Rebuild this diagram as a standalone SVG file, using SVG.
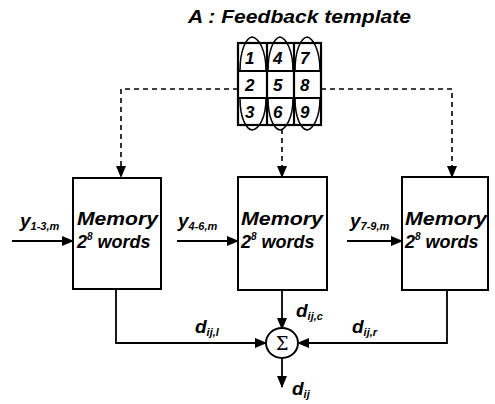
<svg xmlns="http://www.w3.org/2000/svg" width="495" height="404" viewBox="0 0 495 404">
<defs>
<marker id="ah" markerWidth="12" markerHeight="10" refX="11" refY="5" orient="auto" markerUnits="userSpaceOnUse">
<path d="M0,0 L12,5 L0,10 Z" fill="#000"/>
</marker>
<style>
.t{font-family:"Liberation Sans",Arial,sans-serif;font-weight:bold;font-style:italic;fill:#000}
.box{fill:#fff;stroke:#000;stroke-width:2}
.ln{fill:none;stroke:#000;stroke-width:1.8}
.dash{fill:none;stroke:#000;stroke-width:1.6;stroke-dasharray:5,4}
.grid{fill:none;stroke:#000;stroke-width:2.2}
.arc{fill:none;stroke:#000;stroke-width:1.5}
</style>
</defs>
<rect width="495" height="404" fill="#fff"/>
<text class="t" x="188" y="23" font-size="18" textLength="223" lengthAdjust="spacingAndGlyphs">A : Feedback template</text>

<g id="template">
<rect class="grid" x="238" y="43" width="83" height="82" fill="#fff"/>
<line class="grid" x1="267" y1="43" x2="267" y2="125"/>
<line class="grid" x1="294" y1="43" x2="294" y2="125"/>
<line class="grid" x1="238" y1="71" x2="321" y2="71"/>
<line class="grid" x1="238" y1="98" x2="321" y2="98"/>
<path class="arc" d="M240,71 C240,50 246,38 252,37 C259,38 266,50 266,71"/>
<path class="arc" d="M268,71 C268,50 274,38 280,37 C286,38 293,50 293,71"/>
<path class="arc" d="M295,71 C295,50 301,38 307,37 C313,38 320,50 320,71"/>
<path class="arc" d="M240,98 C240,118 246,129 252,130 C259,129 266,118 266,98"/>
<path class="arc" d="M268,98 C268,118 274,129 280,130 C286,129 293,118 293,98"/>
<path class="arc" d="M295,98 C295,118 301,129 307,130 C313,129 320,118 320,98"/>
<text class="t" font-size="17" x="245" y="64">1</text>
<text class="t" font-size="17" x="273" y="64">4</text>
<text class="t" font-size="17" x="300" y="64">7</text>
<text class="t" font-size="17" x="245" y="91">2</text>
<text class="t" font-size="17" x="273" y="91">5</text>
<text class="t" font-size="17" x="300" y="91">8</text>
<text class="t" font-size="17" x="245" y="118">3</text>
<text class="t" font-size="17" x="273" y="118">6</text>
<text class="t" font-size="17" x="300" y="118">9</text>
</g>

<g id="connectors">
<path class="dash" d="M238,89 H121 V177" marker-end="url(#ah)"/>
<path class="dash" d="M321,89 H452 V177" marker-end="url(#ah)"/>
<path class="dash" d="M282,129 V177" marker-end="url(#ah)"/>
<path class="ln" d="M12,241 H73" marker-end="url(#ah)"/>
<path class="ln" d="M177,241 H238" marker-end="url(#ah)"/>
<path class="ln" d="M347,241 H402" marker-end="url(#ah)"/>
<path class="ln" d="M116,289 V343 H266" marker-end="url(#ah)"/>
<path class="ln" d="M447,290 V343 H298" marker-end="url(#ah)"/>
<path class="ln" d="M282,290 V329" marker-end="url(#ah)"/>
<path class="ln" d="M282,358 V387" marker-end="url(#ah)"/>
</g>

<g id="mem1">
<rect class="box" x="73" y="178" width="88" height="111"/>
<text class="t" x="77" y="225" font-size="18" textLength="81" lengthAdjust="spacingAndGlyphs">Memory</text>
<text class="t" x="77" y="248" font-size="18">2<tspan font-size="10" dy="-8">8</tspan><tspan dy="8"> words</tspan></text>
</g>
<g id="mem2">
<rect class="box" x="238" y="177" width="89" height="113"/>
<text class="t" x="241" y="225" font-size="18" textLength="82" lengthAdjust="spacingAndGlyphs">Memory</text>
<text class="t" x="241" y="248" font-size="18">2<tspan font-size="10" dy="-8">8</tspan><tspan dy="8"> words</tspan></text>
</g>
<g id="mem3">
<rect class="box" x="402" y="177" width="86" height="113"/>
<text class="t" x="405" y="225" font-size="18" textLength="82" lengthAdjust="spacingAndGlyphs">Memory</text>
<text class="t" x="405" y="248" font-size="18">2<tspan font-size="10" dy="-8">8</tspan><tspan dy="8"> words</tspan></text>
</g>

<g id="inputs">
<text class="t" x="20" y="227" font-size="19">y<tspan font-size="11" dy="3">1-3,m</tspan></text>
<text class="t" x="178" y="227" font-size="19">y<tspan font-size="11" dy="3">4-6,m</tspan></text>
<text class="t" x="350" y="227" font-size="19">y<tspan font-size="11" dy="3">7-9,m</tspan></text>
</g>

<g id="sum">
<ellipse cx="282" cy="343" rx="16" ry="15" fill="#fff" stroke="#000" stroke-width="2"/>
<text x="282" y="350" font-size="18" text-anchor="middle" font-family="'DejaVu Serif',serif" fill="#000">Σ</text>
</g>

<g id="labels">
<text class="t" x="296" y="317" font-size="19">d<tspan font-size="11" dy="3">ij,c</tspan></text>
<text class="t" x="195" y="333" font-size="19">d<tspan font-size="11" dy="3">ij,l</tspan></text>
<text class="t" x="352" y="333" font-size="19">d<tspan font-size="11" dy="3">ij,r</tspan></text>
<text class="t" x="292" y="395" font-size="19">d<tspan font-size="11" dy="3">ij</tspan></text>
</g>
</svg>
